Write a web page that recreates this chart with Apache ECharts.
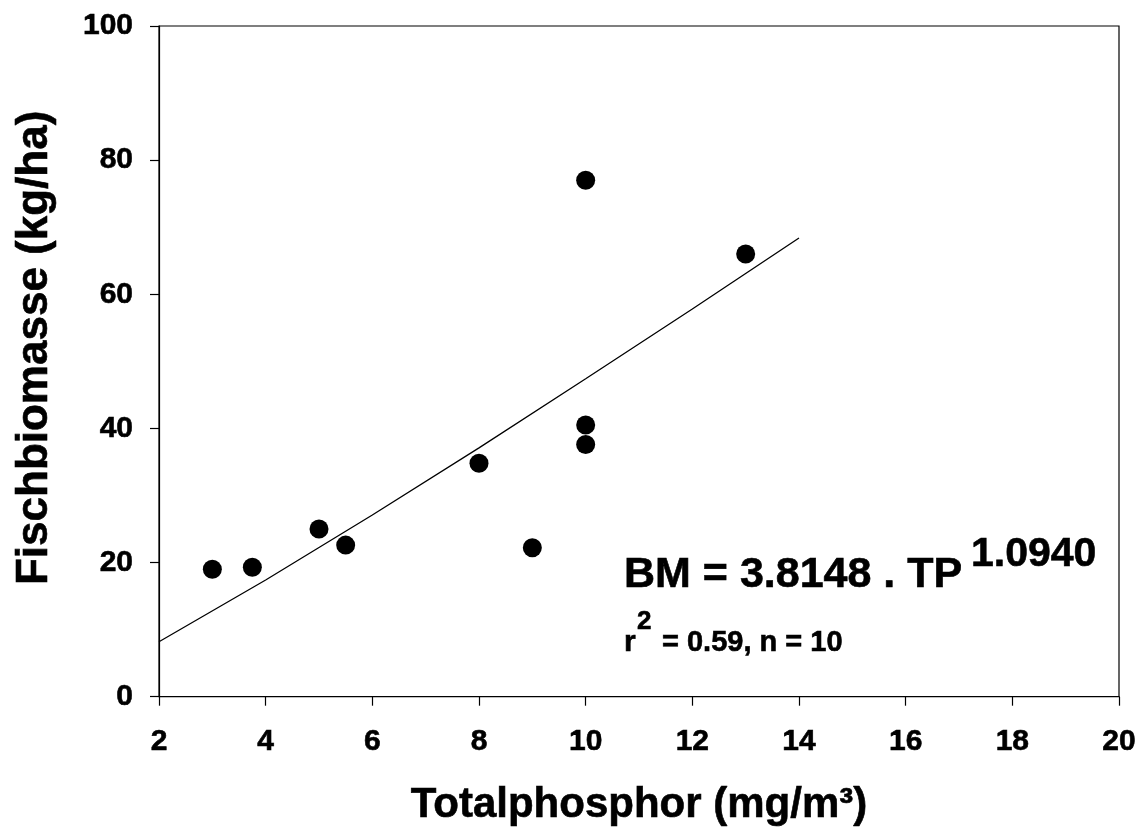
<!DOCTYPE html>
<html>
<head>
<meta charset="utf-8">
<script src="https://cdn.jsdelivr.net/npm/echarts@6/dist/echarts.min.js"></script>
<style>
html,body{margin:0;padding:0;background:#fff;}
#chart{width:1141px;height:832px;}
</style>
</head>
<body>
<div id="chart"></div>
<script>
// Observed data: total phosphorus (mg/m³) vs fish biomass (kg/ha)
var tpValues = [3, 3.75, 5, 5.5, 8, 9, 10, 10, 10, 13];
var bmValues = [19.0, 19.3, 25.0, 22.6, 34.8, 22.2, 77.0, 40.5, 37.6, 66.0];

// Fitted curve
var fitTP = [2, 4, 6, 8, 10, 12, 14];
var fitBM = [8.2, 17.4, 27.1, 37.1, 47.4, 57.8, 68.4];

var xTicks = [2, 4, 6, 8, 10, 12, 14, 16, 18, 20];
var yTicks = [0, 20, 40, 60, 80, 100];

var xTitle = 'Totalphosphor (mg/m³)';
var yTitle = 'Fischbiomasse (kg/ha)';
var eqMain = 'BM = 3.8148 . TP';
var eqExp = '1.0940';
var statR = 'r';
var statExp = '2';
var statRest = '= 0.59, n = 10';

var FONT = '"Liberation Sans", Arial, Helvetica, sans-serif';
var HEAVY = {textBorderColor: '#000', textBorderWidth: 0.6};

var scatterData = tpValues.map(function (x, i) { return [x, bmValues[i]]; });
var fitData = fitTP.map(function (x, i) { return [x, fitBM[i]]; });

var chart = echarts.init(document.getElementById('chart'), null, {renderer: 'canvas'});

var axisCommon = {
  axisLine: {show: true, onZero: false, lineStyle: {color: '#000', width: 1.2}},
  axisTick: {show: true, inside: false, length: 9, lineStyle: {color: '#000', width: 1.2}},
  splitLine: {show: false}
};

function gText(x, y, text, size) {
  return {type: 'text', x: x, y: y, style: {text: text, fontFamily: FONT, fontWeight: 'bold', fontSize: size,
    fill: '#000', stroke: '#000', lineWidth: 0.6, align: 'left', verticalAlign: 'middle'}};
}

chart.setOption({
  animation: false,
  backgroundColor: '#fff',
  grid: {left: 159, right: 22, top: 26, bottom: 134, show: true, borderColor: '#000', borderWidth: 1.2, backgroundColor: 'transparent'},
  xAxis: Object.assign({}, axisCommon, {
    type: 'value',
    min: xTicks[0], max: xTicks[xTicks.length - 1], interval: xTicks[1] - xTicks[0],
    name: xTitle, nameLocation: 'middle', nameGap: 88,
    nameTextStyle: Object.assign({fontFamily: FONT, fontWeight: 'bold', color: '#000', fontSize: 42}, HEAVY),
    axisLabel: Object.assign({fontFamily: FONT, fontWeight: 'bold', color: '#000', fontSize: 30, margin: 30,
      showMinLabel: true, showMaxLabel: true}, HEAVY)
  }),
  yAxis: Object.assign({}, axisCommon, {
    type: 'value',
    min: yTicks[0], max: yTicks[yTicks.length - 1], interval: yTicks[1] - yTicks[0],
    name: yTitle, nameLocation: 'middle', nameGap: 102,
    nameTextStyle: Object.assign({fontFamily: FONT, fontWeight: 'bold', color: '#000', fontSize: 44, padding: [0, 0, 0, 27]}, HEAVY),
    axisLabel: Object.assign({fontFamily: FONT, fontWeight: 'bold', color: '#000', fontSize: 30, margin: 26,
      showMinLabel: true, showMaxLabel: true}, HEAVY)
  }),
  series: [
    {
      type: 'line',
      data: fitData,
      showSymbol: false,
      symbol: 'none',
      lineStyle: {color: '#000', width: 1.3},
      z: 2
    },
    {
      type: 'scatter',
      data: scatterData,
      symbol: 'circle',
      symbolSize: 19,
      itemStyle: {color: '#000', opacity: 1},
      z: 3
    }
  ],
  graphic: [
    gText(624, 575, eqMain, 43),
    gText(971, 555, eqExp, 41),
    gText(624, 643, statR, 30),
    gText(637, 622, statExp, 26),
    gText(662, 643, statRest, 29)
  ]
});
</script>
</body>
</html>
